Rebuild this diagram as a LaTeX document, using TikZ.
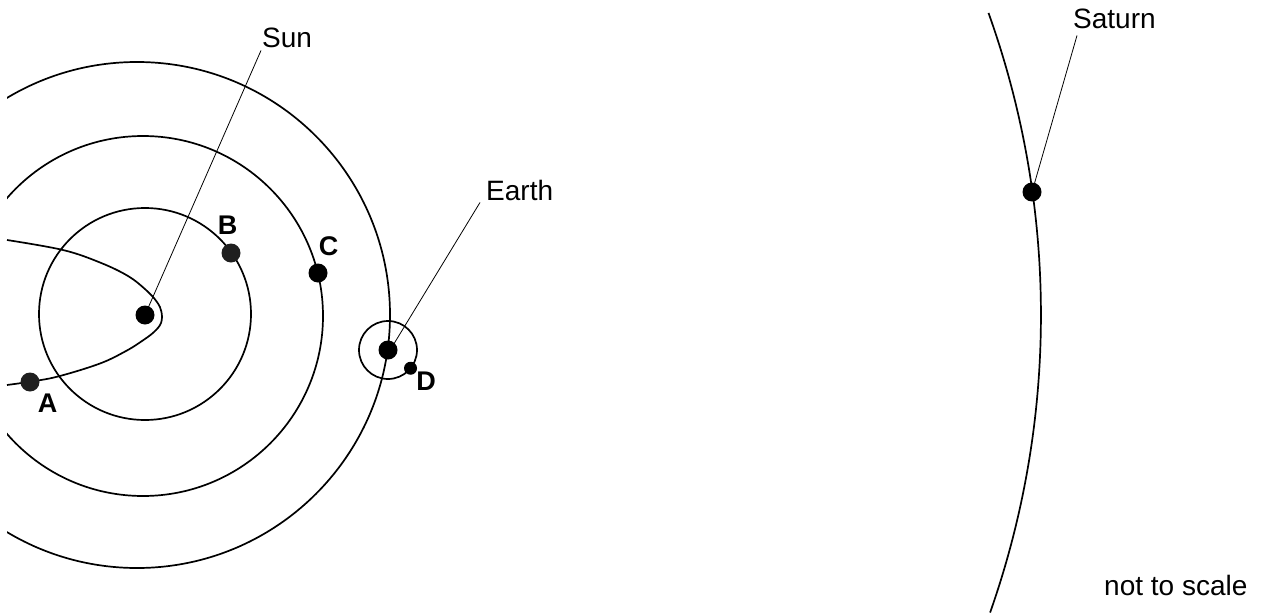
\documentclass[tikz,border=0pt]{standalone}
\usepackage{fontspec}
\setmainfont{Liberation Sans}
\usetikzlibrary{calc}
\begin{document}
\begin{tikzpicture}[x=1pt,y=-1pt,
  orbit/.style={line width=1.7pt},
  leader/.style={line width=0.8pt},
  body/.style={circle, fill=black, inner sep=0pt, minimum size=#1},
  body/.default=19pt,
  lbl/.style={font=\fontsize{28}{33}\selectfont, inner sep=0pt, anchor=base west},
  letter/.style={font=\fontsize{27}{32}\selectfont\bfseries, inner sep=0pt}]
\useasboundingbox (0,0) rectangle (1264,613);
\coordinate (sunc) at (145,315);
% orbits around the sun
\begin{scope}
  \clip (7,0) rectangle (1264,613);
  \draw[orbit] (137,315) circle[radius=253pt];
  \draw[orbit] (143,316) circle[radius=180pt];
  \draw[orbit] (145,314) circle[radius=106pt];
\end{scope}
% Saturn orbit
\draw[orbit] ($(sunc)+(-19.4:896pt)$) arc[start angle=-19.4, end angle=19.7, radius=896pt];
% comet orbit
\draw[orbit] plot[smooth, tension=0.6] coordinates {(7,240) (63,250) (100,262.5) (128,276) (146,290) (157,302) (161.5,312) (161,323) (154,332) (142,341) (126,351) (100,363.5) (58,376.5) (30,381.7) (7,385)};
% Earth ring
\node[draw, circle, line width=1.7pt, minimum size=58pt, inner sep=0pt] (ring) at (388,350) {};
% bodies
\node[body] (sun) at (sunc) {};
\node[body, fill=black!88] (a) at (30,382) {};
\node[body, fill=black!88] (b) at (231,253) {};
\node[body] (c) at (318,273) {};
\node[body] (earth) at (388,350) {};
\node[body=13pt] (d) at ($(earth)+(-39:29pt)$) {};
\node[body] (saturn) at (1032,192) {};
% letters
\node[letter] (la) at (47.5,403) {A};
\node[letter] (lb) at (227.5,225.5) {B};
\node[letter] (lc) at (328.5,246) {C};
\node[letter] (ld) at (426,381) {D};
% labels
\node[lbl] (sunlbl) at (262,47) {Sun};
\node[lbl] (earthlbl) at (486,200) {Earth};
\node[lbl] (saturnlbl) at (1073,28) {Saturn};
\node[lbl] (scale) at (1104,595) {not to scale};
% leaders
\draw[leader] (sun.center) -- ([shift={(-1pt,-3pt)}]sunlbl.south west);
\draw[leader] ([shift={(4pt,3pt)}]earth.center) -- ([shift={(-6pt,-2pt)}]earthlbl.south west);
\draw[leader] (saturn.center) -- ([shift={(4pt,-7pt)}]saturnlbl.south west);
\end{tikzpicture}
\end{document}
